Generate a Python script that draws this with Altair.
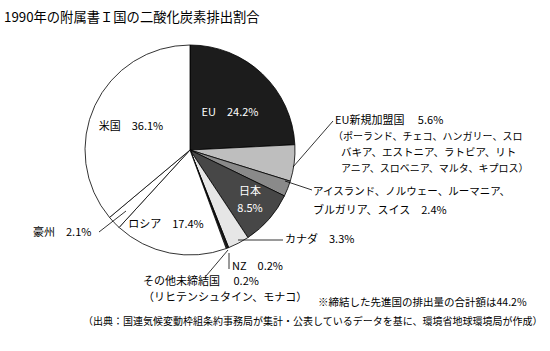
import altair as alt
import pandas as pd

# ---- data ----
names = ["EU", "EU新規加盟国", "アイスランド等", "日本", "カナダ", "NZ", "その他未締結国", "ロシア", "豪州", "米国"]
values = [24.2, 5.6, 2.4, 8.5, 3.3, 0.2, 0.2, 17.4, 2.1, 36.1]
colors = ["#1c1c1c", "#bebebe", "#8a8a8a", "#474747", "#e6e6e6", "#2a2a2a", "#555555", "#ffffff", "#ffffff", "#ffffff"]

title_text = "1990年の附属書Ｉ国の二酸化炭素排出割合"

label_texts = [
    "EU　24.2%", "米国　36.1%", "日本", "8.5%", "ロシア　17.4%",
]
label_x = [230, 131, 250, 250, 166]
label_y = [113, 127, 192, 209, 225]
label_col = ["#ffffff", "#000000", "#ffffff", "#ffffff", "#000000"]

out_texts = [
    "EU新規加盟国　 5.6%",
    "（ポーランド、チェコ、ハンガリー、スロ",
    "バキア、エストニア、ラトビア、リト",
    "アニア、スロベニア、マルタ、キプロス）",
    "アイスランド、ノルウェー、ルーマニア、",
    "ブルガリア、スイス　2.4%",
    "カナダ　3.3%",
    "NZ　0.2%",
    "その他未締結国　 0.2%",
    "（リヒテンシュタイン、モナコ）",
    "豪州　2.1%",
    "※締結した先進国の排出量の合計額は44.2%",
    "（出典：国連気候変動枠組条約事務局が集計・公表しているデータを基に、環境省地球環境局が作成）",
]
out_x = [335, 333, 341, 341, 313, 313, 285, 232, 143, 143, 33, 318, 83]
out_y = [121, 137, 153, 169, 192, 211, 240, 267, 282, 298, 233, 303, 322]
out_size = [11, 10, 10.5, 10, 10.5, 11, 11, 11, 11, 11, 11, 10.5, 10]

lead_x = [293, 285, 238, 229, 228, 99]
lead_y = [167, 181, 240, 253, 250, 232]
lead_x2 = [333, 312, 283, 229, 206, 126]
lead_y2 = [121, 190, 240, 269, 276, 211]

# ---- tables ----
pie_df = pd.DataFrame({"name": names, "value": values, "order": list(range(len(names)))})
lab_df = pd.DataFrame({"t": label_texts, "x": label_x, "y": label_y, "c": label_col})
out_df = pd.DataFrame({"t": out_texts, "x": out_x, "y": out_y, "s": out_size})
lead_df = pd.DataFrame({"x": lead_x, "y": lead_y, "x2": lead_x2, "y2": lead_y2})

FONT = "Noto Sans CJK JP"

pie = alt.Chart(pie_df).mark_arc(outerRadius=105, stroke="#000000", strokeWidth=0.8).encode(
    theta=alt.Theta("value:Q", stack=True),
    order=alt.Order("order:Q"),
    color=alt.Color("name:N", scale=alt.Scale(domain=names, range=colors), legend=None),
    x=alt.value(190),
    y=alt.value(150),
)

inside = alt.Chart(lab_df).mark_text(font=FONT, fontSize=11, align="center", baseline="middle").encode(
    x=alt.X("x:Q", scale=None, axis=None),
    y=alt.Y("y:Q", scale=None, axis=None),
    text="t:N",
    color=alt.Color("c:N", scale=None),
)

outside = alt.Chart(out_df).mark_text(font=FONT, align="left", baseline="middle", color="#000000").encode(
    x=alt.X("x:Q", scale=None, axis=None),
    y=alt.Y("y:Q", scale=None, axis=None),
    text="t:N",
    size=alt.Size("s:Q", scale=None, legend=None),
)

leaders = alt.Chart(lead_df).mark_rule(color="#000000", strokeWidth=0.8).encode(
    x=alt.X("x:Q", scale=None, axis=None),
    y=alt.Y("y:Q", scale=None, axis=None),
    x2="x2:Q",
    y2="y2:Q",
)

title_df = pd.DataFrame({"t": [title_text], "x": [4], "y": [18]})
title = alt.Chart(title_df).mark_text(font=FONT, fontSize=13.3, align="left", baseline="middle", color="#000000").encode(
    x=alt.X("x:Q", scale=None, axis=None),
    y=alt.Y("y:Q", scale=None, axis=None),
    text="t:N",
)

chart = alt.layer(pie, leaders, inside, outside, title).properties(
    width=550, height=351, padding=0, autosize=alt.AutoSizeParams(type="none"), background="#ffffff"
).configure_view(stroke=None)

chart.save("out.html", embed_options={"renderer": "svg", "actions": False})
